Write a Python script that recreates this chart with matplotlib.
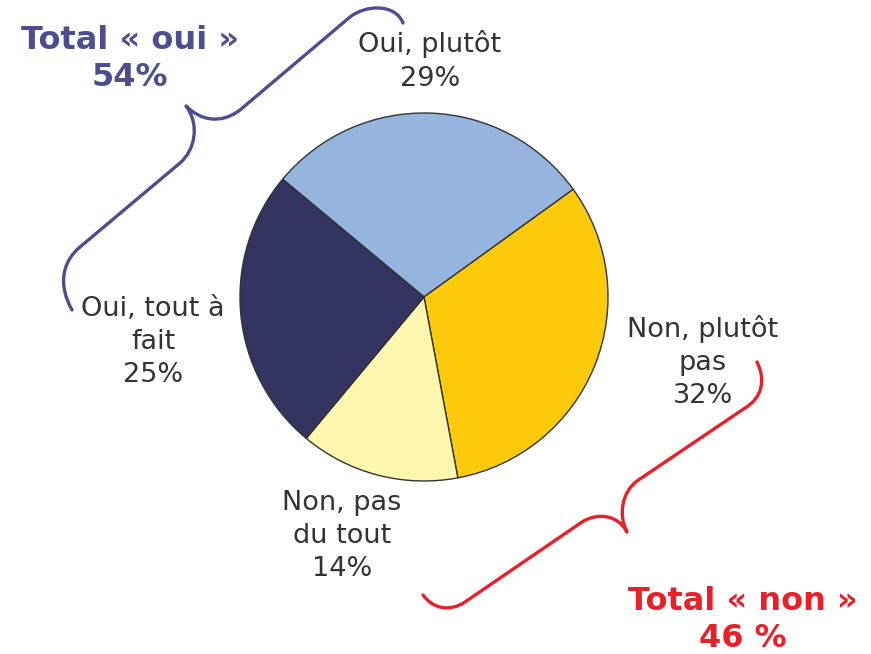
import numpy as np
import matplotlib
matplotlib.use("Agg")
import matplotlib.pyplot as plt
from matplotlib.path import Path
from matplotlib.patches import PathPatch

# slices, clockwise from upper left
labels = ["Oui, plutôt\n29%", "Non, plutôt\npas\n32%", "Non, pas\ndu tout\n14%", "Oui, tout à\nfait\n25%"]
values = [29, 32, 14, 25]
colors = ["#95B4DE", "#FDCB0B", "#FFF7B0", "#343461"]

total_oui = "Total « oui »\n54%"
total_non = "Total « non »\n46 %"

W, H = 871, 654
fig = plt.figure(figsize=(W / 100, H / 100), dpi=100)
ax = fig.add_axes([0, 0, 1, 1])

ax.pie(values, colors=colors, startangle=140.2, counterclock=False,
       center=(424, H - 297), radius=184,
       wedgeprops=dict(edgecolor="#333333", linewidth=1.0))
ax.set_xlim(0, W)
ax.set_ylim(0, H)
ax.set_aspect("equal")
ax.axis("off")

def py(y):
    return H - y

# label positions (pixels from top-left)
label_pos = [(430, 61), (703, 362), (342, 536), (153, 342)]
for txt, (x, y) in zip(labels, label_pos):
    ax.text(x, py(y), txt, ha="center", va="center", fontsize=19.5,
            color="#333333", linespacing=1.36)

purple = "#4E4E8E"
red = "#E8202A"
ax.text(130, py(59), total_oui, ha="center", va="center", fontsize=23,
        fontweight="bold", color=purple, linespacing=1.25)
ax.text(743, py(620), total_non, ha="center", va="center", fontsize=23,
        fontweight="bold", color=red, linespacing=1.25)

def brace(pts, codes, color):
    verts = [(x, py(y)) for x, y in pts]
    ax.add_patch(PathPatch(Path(verts, codes), fill=False, edgecolor=color,
                           linewidth=2.4, capstyle="round", joinstyle="round"))

M, L, C = Path.MOVETO, Path.LINETO, Path.CURVE4
codes = [M, C, C, C, L, C, C, C, C, C, C, L, C, C, C]

brace([(72, 310), (58, 285), (62, 262), (80, 247), (180, 163),
       (195, 150), (200, 125), (186, 106),
       (200, 120), (220, 125), (240, 110), (350, 17),
       (365, 5), (395, 3), (403, 23)], codes, purple)

brace([(757, 362), (766, 380), (762, 398), (745, 408), (637, 481),
       (622, 492), (618, 515), (627, 532),
       (618, 515), (598, 512), (582, 522), (465, 602),
       (450, 612), (433, 609), (423, 595)], codes, red)

fig.savefig("out.png", dpi=100)
